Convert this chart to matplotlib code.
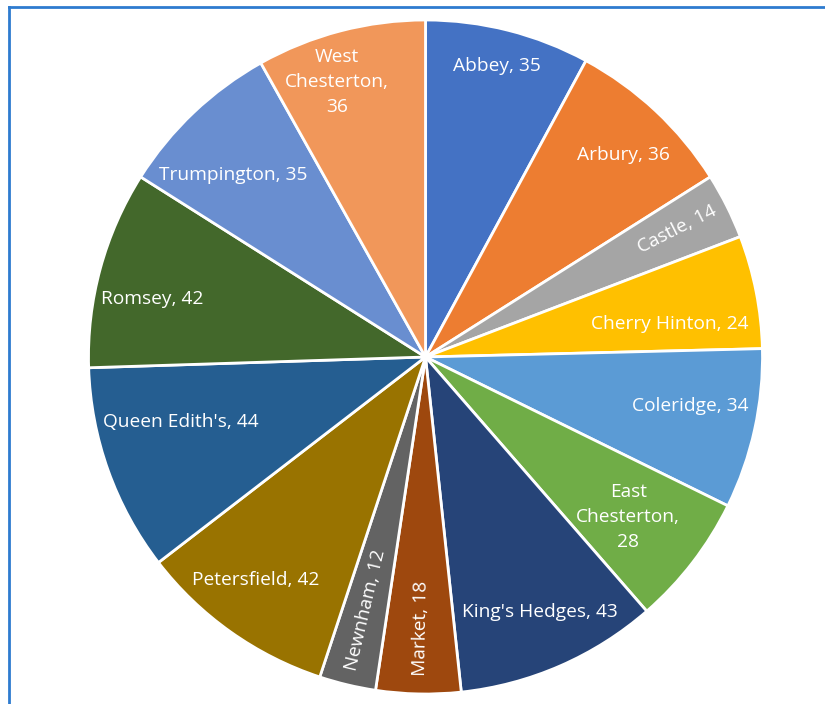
import matplotlib.pyplot as plt
import numpy as np
from matplotlib.lines import Line2D

wards = ["Abbey", "Arbury", "Castle", "Cherry Hinton", "Coleridge", "East Chesterton",
         "King's Hedges", "Market", "Newnham", "Petersfield", "Queen Edith's",
         "Romsey", "Trumpington", "West Chesterton"]
counts = [35, 36, 14, 24, 34, 28, 43, 18, 12, 42, 44, 42, 35, 36]

colors = ["#4472C4", "#ED7D31", "#A5A5A5", "#FFC000", "#5B9BD5", "#70AD47",
          "#264478", "#9E480E", "#636363", "#997300", "#255E91", "#43682B",
          "#698ED0", "#F1975A"]

# label placement: fraction of radius and angle nudge (deg, clockwise) from slice middle
label_r = [0.889, 0.838, 0.837, 0.732, 0.798, 0.766, 0.829, 0.804, 0.772, 0.831, 0.751, 0.830, 0.786, 0.857]
label_shift = [-0.4, 1.3, -0.4, 3.5, -1.9, 0.7, -0.6, -0.2, 0.0, 1.9, 4.8, -3.2, -3.1, -3.2]
radial = {"Castle", "Market", "Newnham"}

fig = plt.figure(figsize=(8.25, 7.04), dpi=100)
R = 337
cx, cy = 425.5, 704 - 357
ax = fig.add_axes([(cx - R) / 825, (cy - R) / 704, 2 * R / 825, 2 * R / 704])

wedges, _ = ax.pie(counts, colors=colors, startangle=90, counterclock=False,
                   wedgeprops=dict(edgecolor="white", linewidth=2))
ax.set_xlim(-1, 1)
ax.set_ylim(-1, 1)
ax.set_aspect("equal")
ax.axis("off")

for w, name, n, d, s in zip(wedges, wards, counts, label_r, label_shift):
    ang = np.deg2rad((w.theta1 + w.theta2) / 2 - s)
    x, y = d * np.cos(ang), d * np.sin(ang)
    if name in ("East Chesterton", "West Chesterton"):
        txt = name.replace(" ", "\n") + ",\n" + str(n)
    else:
        txt = f"{name}, {n}"
    rot = 0
    if name in radial:
        rot = (np.rad2deg(ang) + 180) % 360 - 180
        if rot < -90:
            rot += 180
        elif rot > 90:
            rot -= 180
    ax.text(x, y, txt, color="white", ha="center", va="center", rotation=rot,
            rotation_mode="anchor", fontsize=13.8, family="Open Sans",
            linespacing=1.5)

# frame around the chart, cropped on the right and bottom
fig.add_artist(Line2D([8.5 / 825, 8.5 / 825], [0, 1 - 7 / 704], color="#2E7BCF", lw=2))
fig.add_artist(Line2D([8.5 / 825, 1], [1 - 7 / 704, 1 - 7 / 704], color="#2E7BCF", lw=2))

fig.savefig("out.png", dpi=100)
